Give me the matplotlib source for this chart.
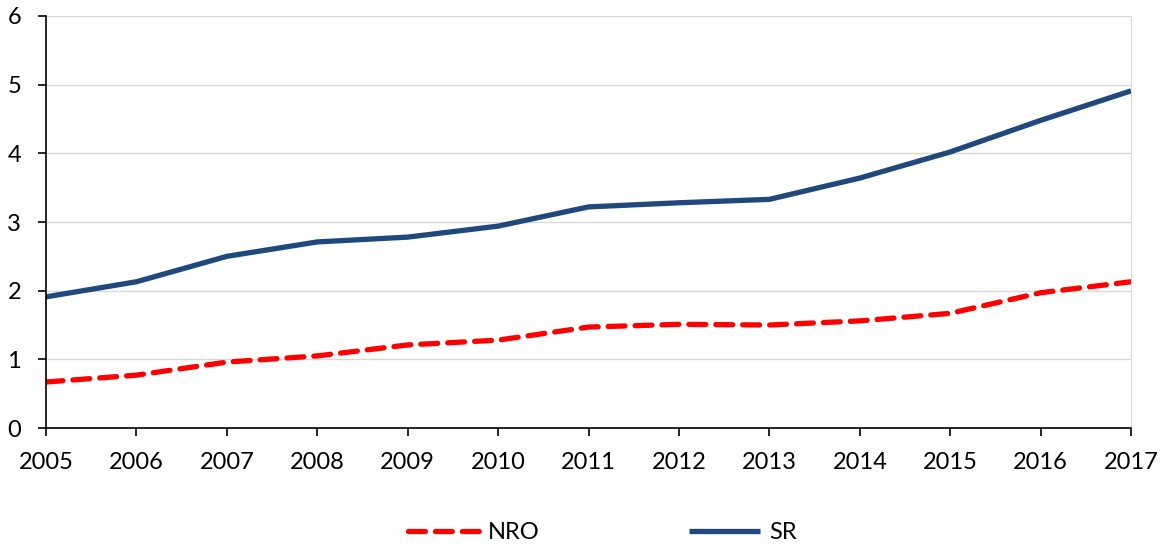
import matplotlib
matplotlib.use("Agg")
import matplotlib.pyplot as plt

years = list(range(2005, 2018))
nro = [0.67, 0.77, 0.96, 1.05, 1.21, 1.28, 1.47, 1.51, 1.50, 1.56, 1.67, 1.97, 2.13]
sr = [1.91, 2.13, 2.50, 2.71, 2.78, 2.94, 3.22, 3.28, 3.33, 3.64, 4.02, 4.48, 4.91]

plt.rcParams["font.family"] = ["Lato", "DejaVu Sans"]

fig = plt.figure(figsize=(11.63, 5.46), dpi=100)
ax = fig.add_axes([0.0396, 0.2161, 0.9329, 0.7546])

ax.plot(years, nro, color="#ff0000", linewidth=3.8, linestyle=(0, (3.2, 1.9)),
        dash_capstyle="round", label="NRO")
ax.plot(years, sr, color="#1f497d", linewidth=3.8, solid_capstyle="butt", label="SR")

ax.set_xlim(2005, 2017)
ax.set_ylim(0, 6)
ax.set_xticks(years)
ax.set_yticks(range(7))
ax.tick_params(axis="both", labelsize=17, direction="out", length=6, width=1.2, color="black")
ax.tick_params(axis="x", pad=11)
ax.tick_params(axis="y", pad=12)
ax.grid(axis="y", color="#d9d9d9", linewidth=1)
ax.set_axisbelow(True)

ax.spines["top"].set_visible(False)
ax.spines["right"].set_color("#d9d9d9")
ax.spines["left"].set_linewidth(1.2)
ax.spines["bottom"].set_linewidth(1.2)

fig.legend(loc="center", bbox_to_anchor=(0.518, 0.024), ncol=2, frameon=False,
           fontsize=17, handlelength=3.0, columnspacing=6.3, handletextpad=0.4)

fig.savefig("out.png", dpi=100)
